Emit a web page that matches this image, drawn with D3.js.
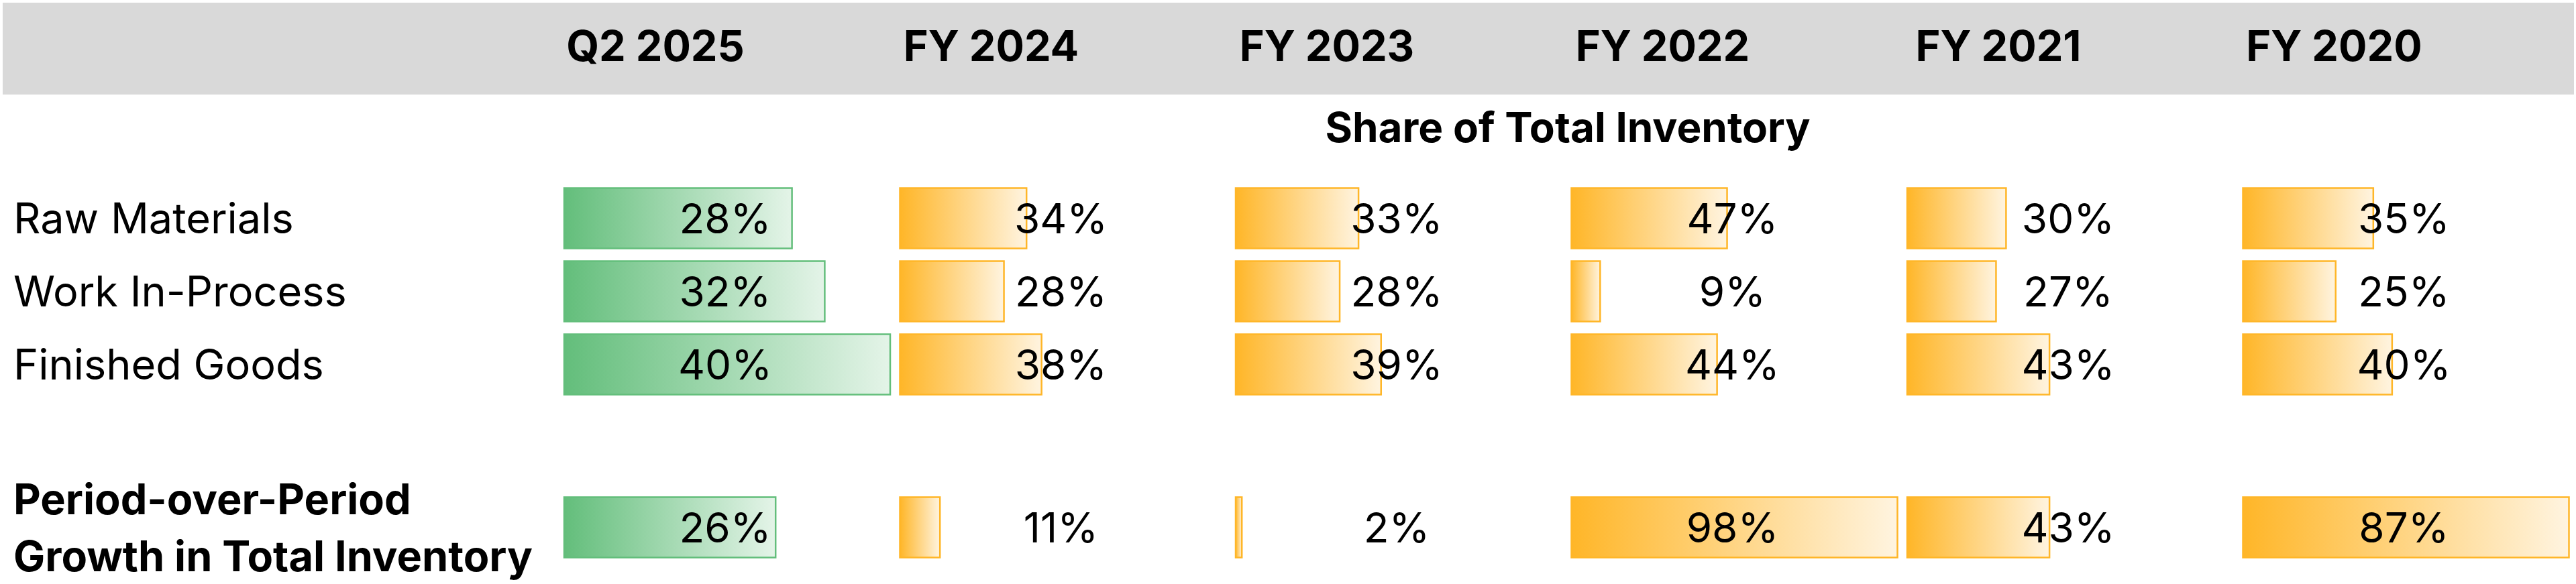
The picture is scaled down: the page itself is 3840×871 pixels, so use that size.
<!DOCTYPE html>
<html>
<head>
<meta charset="utf-8">
<script src="https://cdn.jsdelivr.net/npm/d3@7"></script>
<style>
    body { margin: 0; background: #fff; }
    text { font-family: Inter, "Noto Sans", sans-serif; fill: #000; }
</style>
</head>
<body>
<script>
var periods = ['Q2 2025', 'FY 2024', 'FY 2023', 'FY 2022', 'FY 2021', 'FY 2020'];
var components = ['Raw Materials', 'Work In-Process', 'Finished Goods'];
var rawMaterials = [28, 34, 33, 47, 30, 35];
var workInProcess = [32, 28, 28, 9, 27, 25];
var finishedGoods = [40, 38, 39, 44, 43, 40];
var inventoryGrowth = [26, 11, 2, 98, 43, 87];
// the data bar range max used by each column in the sheet
var barRangeMax = [40, 87, 87, 98, 98, 87];

var width = 3840;
var height = 871;

var svg = d3.select('body')
    .append('svg')
    .attr('width', width)
    .attr('height', height);

var defs = svg.append('defs');

function addGradient(id, from, to) {
    var gr = defs.append('linearGradient')
        .attr('id', id)
        .attr('x1', 0).attr('x2', 1)
        .attr('y1', 0).attr('y2', 0);
    gr.append('stop').attr('offset', '0%').attr('stop-color', from);
    gr.append('stop').attr('offset', '100%').attr('stop-color', to);
}
addGradient('gradGreen', '#63BE7B', '#E4F4E8');
addGradient('gradOrange', '#FFB628', '#FFF4E0');

// columns
var x = d3.scaleBand()
    .domain(periods)
    .range([840, 3843]);

var barWidth = 488;
var barHeight = 92;

var scales = periods.map(function(p, i) {
    return d3.scaleLinear().domain([0, barRangeMax[i]]).range([0, barWidth]);
});

// rows
var y = d3.scalePoint()
    .domain(components)
    .range([325.5, 543.5]);
var growthY = 786.5;

// header band
svg.append('rect')
    .attr('x', 4)
    .attr('y', 4)
    .attr('width', 3833)
    .attr('height', 137)
    .attr('fill', '#D9D9D9');

svg.append('g')
    .selectAll('text')
    .data(periods)
    .enter()
    .append('text')
    .attr('x', function(d) { return x(d) + 137; })
    .attr('y', 91)
    .attr('text-anchor', 'middle')
    .attr('font-size', 63)
    .attr('font-weight', 700)
    .text(function(d) { return d; });

svg.append('text')
    .attr('x', 2337)
    .attr('y', 212)
    .attr('text-anchor', 'middle')
    .attr('font-size', 62)
    .attr('font-weight', 700)
    .text('Share of Total Inventory');

// row labels
svg.append('g')
    .selectAll('text')
    .data(components)
    .enter()
    .append('text')
    .attr('x', 20)
    .attr('y', function(d) { return y(d); })
    .attr('dy', '0.36em')
    .attr('font-size', 63)
    .text(function(d) { return d; });

var growthLabel = svg.append('text')
    .attr('font-size', 63)
    .attr('font-weight', 700);
growthLabel.append('tspan').attr('x', 20).attr('y', 767).text('Period-over-Period');
growthLabel.append('tspan').attr('x', 20).attr('y', 852).text('Growth in Total Inventory');

// build cells
var seriesByRow = [rawMaterials, workInProcess, finishedGoods];
var cells = [];
seriesByRow.forEach(function(vals, r) {
    vals.forEach(function(v, i) {
        cells.push({ period: periods[i], col: i, value: v, cy: y(components[r]) });
    });
});
inventoryGrowth.forEach(function(v, i) {
    cells.push({ period: periods[i], col: i, value: v, cy: growthY });
});

var cell = svg.append('g')
    .selectAll('g')
    .data(cells)
    .enter()
    .append('g');

cell.append('rect')
    .attr('x', function(d) { return x(d.period) + 1; })
    .attr('y', function(d) { return d.cy - barHeight / 2 + 1; })
    .attr('width', function(d) { return Math.max(scales[d.col](d.value) - 2, 1); })
    .attr('height', barHeight - 2)
    .attr('fill', function(d) { return d.col === 0 ? 'url(#gradGreen)' : 'url(#gradOrange)'; })
    .attr('stroke', function(d) { return d.col === 0 ? '#63BE7B' : '#FFB628'; })
    .attr('stroke-width', 2.5);

cell.append('text')
    .attr('x', function(d) { return x(d.period) + 241; })
    .attr('y', function(d) { return d.cy; })
    .attr('dy', '0.36em')
    .attr('text-anchor', 'middle')
    .attr('font-size', 62)
    .text(function(d) { return d.value + '%'; });
</script>
</body>
</html>
